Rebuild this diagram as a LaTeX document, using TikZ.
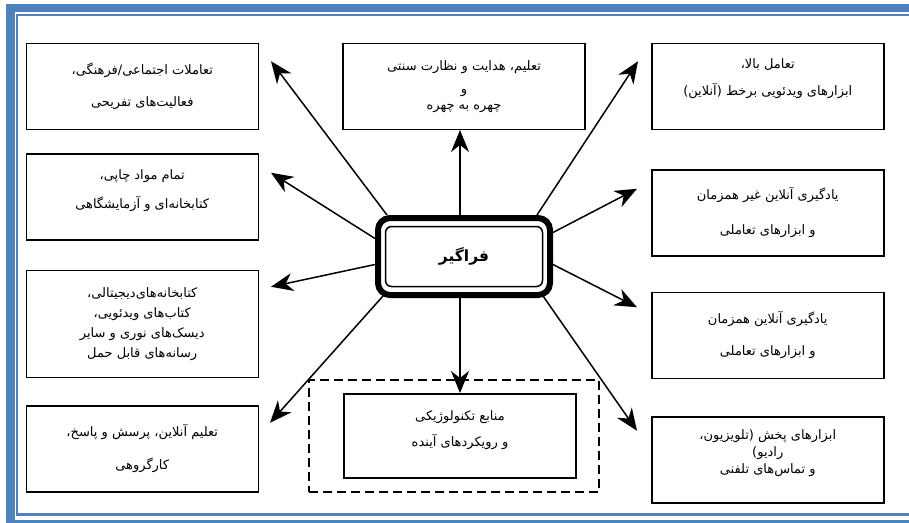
\documentclass[tikz,border=0pt]{standalone}
\usepackage{fontspec}
\newfontfamily\arabicfont[Script=Arabic]{DejaVu Sans}
\TeXXeTstate=1
\usetikzlibrary{positioning}
\usetikzlibrary{arrows.meta}
\definecolor{pageblue}{HTML}{4F81BD}
\newcommand{\fa}[1]{\beginR #1\endR}
\tikzset{
  infobox/.style={rectangle,draw,line width=1.5pt,minimum width=232pt,minimum height=86pt,align=center,font=\arabicfont\fontsize{13}{15}\selectfont},
  spoke/.style={-{Stealth[length=22pt,width=18pt,inset=7pt]},line width=1.5pt},
}

\begin{document}
\begin{tikzpicture}[x=1pt,y=1pt]
  \useasboundingbox (0,0) rectangle (909,-522);
  % page border
  \draw[pageblue,line width=8.5pt] (10.5,-8) rectangle (930,-524);
  \draw[pageblue,line width=2.5pt] (17,-15) rectangle (930,-514.5);
  % the learner in the middle
  \node(learner)[rectangle,draw,line width=6pt,rounded corners=12pt,minimum width=172pt,minimum height=77pt] at (464,-256.5){};
  \node(learnertext)[rectangle,draw,line width=1.5pt,rounded corners=6pt,minimum width=157pt,minimum height=60pt,font=\arabicfont\bfseries\fontsize{15.5}{18}\selectfont] at (learner){\fa{فراگیر}};
  % left column
  \node(social)[infobox,above left=85pt and 116pt of learner]{\fa{تعاملات اجتماعی/فرهنگی،}\\[17pt]\fa{فعالیت‌های تفریحی}};
  \node(print)[infobox,below=23pt of social]{\fa{تمام مواد چاپی،}\\[13pt]\fa{کتابخانه‌ای و آزمایشگاهی}\\[0pt]\mbox{}};
  \node(digital)[infobox,minimum height=107pt,below=29pt of print]{\fa{کتابخانه‌های‌دیجیتالی،}\\[5pt]\fa{کتاب‌های ویدئویی،}\\[5pt]\fa{دیسک‌های نوری و سایر}\\[5pt]\fa{رسانه‌های قابل حمل}};
  \node(tutor)[infobox,below=27pt of digital]{\fa{تعلیم آنلاین، پرسش و پاسخ،}\\[18pt]\fa{کارگروهی}};
  % top
  \node(faceface)[infobox,minimum width=242pt,above=85pt of learner]{\fa{تعلیم، هدایت و نظارت سنتی}\\[8pt]\fa{و}\\[1pt]\fa{چهره به چهره}};
  % right column
  \node(video)[infobox,above right=85pt and 98pt of learner]{\fa{تعامل بالا،}\\[12pt]\fa{ابزارهای ویدئویی برخط (آنلاین)}\\[4pt]\mbox{}};
  \node(async)[infobox,below=39pt of video]{\fa{یادگیری آنلاین غیر همزمان}\\[20pt]\fa{و ابزارهای تعاملی}};
  \node(sync)[infobox,below=35pt of async]{\fa{یادگیری آنلاین همزمان}\\[17pt]\fa{و ابزارهای تعاملی}};
  \node(broadcast)[infobox,below=37pt of sync]{\fa{ابزارهای پخش (تلویزیون،}\\[2pt]\fa{رادیو)}\\[2pt]\fa{و تماس‌های تلفنی}\\[2pt]\mbox{}};
  % bottom
  \node(futureframe)[rectangle,draw,line width=1.5pt,dash pattern=on 9pt off 5pt,minimum width=290pt,minimum height=112pt,below=81pt of learner,xshift=-10pt]{};
  \node(future)[infobox,minimum height=84pt,below=95pt of learner,xshift=-4pt]{\fa{منابع تکنولوژیکی}\\[10pt]\fa{و رویکردهای آینده}\\[0pt]\mbox{}};
\draw[spoke]([xshift=12pt]learner.north west)->([shift={(12pt,25pt)}]social.east);
\draw[spoke]([xshift=-4pt]learner.north)->([xshift=-4pt]learner.north |- faceface.south);
\draw[spoke]([xshift=-16pt]learner.north east)->([shift={(-13pt,25pt)}]video.west);
\draw[spoke]([yshift=18pt]learner.west)->([shift={(12pt,24pt)}]print.east);
\draw[spoke]([yshift=24pt]learner.east)->([shift={(-14pt,24pt)}]async.west);
\draw[spoke]([yshift=-8pt]learner.west)->([shift={(12pt,37pt)}]digital.east);
\draw[spoke]([yshift=-8pt]learner.east)->([shift={(-14pt,28pt)}]sync.west);
\draw[spoke]([shift={(8pt,2pt)}]learner.south west)->([shift={(11pt,26pt)}]tutor.east);
\draw[spoke](learner.south -| future.north)->(future.north);
\draw[spoke]([shift={(-10pt,2pt)}]learner.south east)->([shift={(-14pt,29pt)}]broadcast.west);
\end{tikzpicture}
\end{document}
